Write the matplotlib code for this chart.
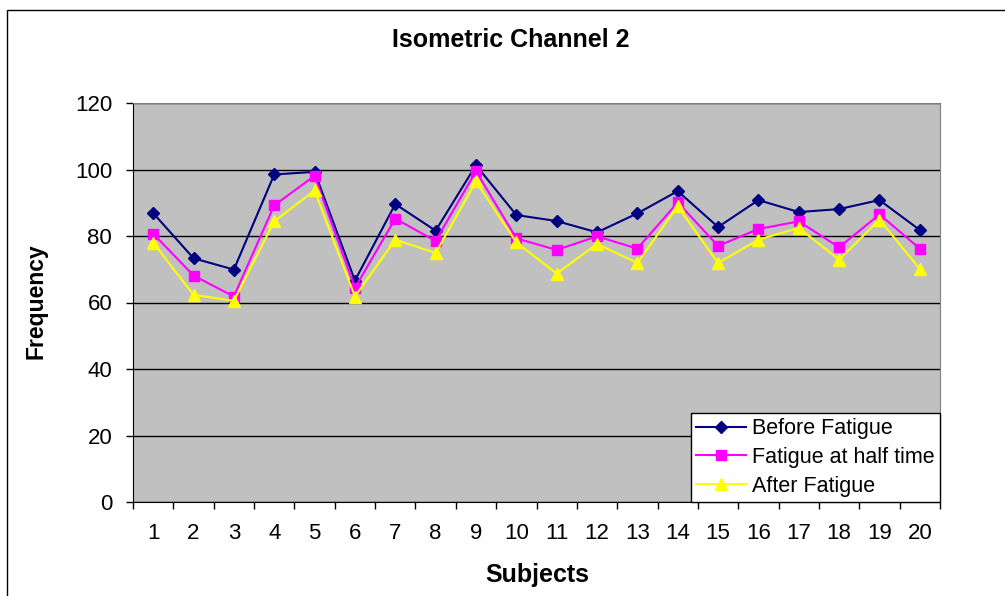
import matplotlib
matplotlib.use('Agg')
import matplotlib.pyplot as plt
from matplotlib.patches import Rectangle

subjects = list(range(1, 21))
before_fatigue = [86.9, 73.3, 69.9, 98.5, 99.3, 66.6, 89.6, 81.6, 101.3, 86.3,
                  84.5, 81.1, 86.8, 93.5, 82.7, 90.8, 87.2, 88.1, 90.8, 81.8]
half_time = [80.7, 68.1, 61.8, 89.2, 98.1, 64.4, 85.2, 78.5, 99.5, 79.3,
             75.8, 79.9, 76.2, 90.1, 77.0, 82.1, 84.4, 76.6, 86.5, 76.2]
after_fatigue = [78.0, 62.3, 60.5, 84.4, 93.7, 61.8, 78.9, 74.9, 96.4, 78.1,
                 68.7, 77.6, 71.9, 88.9, 71.9, 78.9, 82.4, 72.9, 84.9, 70.1]

plt.rcParams['font.family'] = ['Liberation Sans', 'DejaVu Sans']

W, H = 1005, 596
fig = plt.figure(figsize=(W / 100, H / 100), dpi=100)
# outer chart border (runs off the right and bottom edges)
fig.patches.append(Rectangle((7 / W, -0.1), 1.2, 1 - 10 / H + 0.1,
                             transform=fig.transFigure, fill=False,
                             edgecolor='black', linewidth=1))

ax = fig.add_axes([133 / W, 1 - 502 / H, (940 - 133) / W, (502 - 103) / H])
ax.set_facecolor('#C0C0C0')

ax.plot(subjects, before_fatigue, color='#000080', marker='D', markersize=5.8,
        linewidth=1.5, label='Before Fatigue')
ax.plot(subjects, half_time, color='#FF00FF', marker='s', markersize=7.2,
        linewidth=1.5, label='Fatigue at half time')
ax.plot(subjects, after_fatigue, color='#FFFF00', marker='^', markersize=8.6,
        linewidth=1.5, label='After Fatigue')

ax.set_xlim(0.5, 20.5)
ax.set_ylim(0, 120)
ax.set_yticks(range(0, 121, 20))
ax.set_xticks(subjects)
ax.set_xticks([i + 0.5 for i in range(0, 21)], minor=True)
ax.tick_params(axis='x', which='major', length=0, pad=15, labelsize=16)
ax.tick_params(axis='x', which='minor', length=5, width=1, direction='out')
ax.tick_params(axis='y', length=5, width=1, direction='out', pad=10, labelsize=16)
ax.yaxis.grid(True, color='black', linewidth=1)
ax.set_axisbelow(True)
for s in ['top', 'right']:
    ax.spines[s].set_color('#808080')
for s in ['left', 'bottom']:
    ax.spines[s].set_color('black')

leg = ax.legend(loc='lower right', bbox_to_anchor=(1, 0), borderaxespad=0,
                fancybox=False, framealpha=1, edgecolor='black',
                fontsize=15.5, handlelength=2.3, handletextpad=0.3,
                labelspacing=0.36, borderpad=0.25)
leg.get_frame().set_linewidth(1)

fig.text(511 / W, 1 - 40 / H, 'Isometric Channel 2', ha='center', va='center',
         fontsize=18, fontweight='bold')
fig.text(36 / W, 1 - 301 / H, 'Frequency', ha='center', va='center',
         rotation=90, fontsize=16.5, fontweight='bold')
fig.text(537 / W, 1 - 575 / H, 'Subjects', ha='center', va='center',
         fontsize=18, fontweight='bold')

fig.savefig('out.png', dpi=100)
